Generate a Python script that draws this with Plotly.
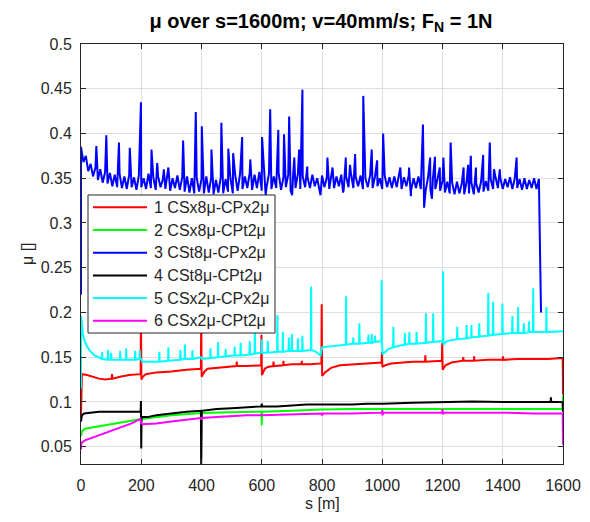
import plotly.graph_objects as go

# ---------------- data ----------------
# 1 CSx8µ-CPx2µ (red)
red_s = [0, 0.5, 3, 20, 40, 60, 80, 102, 103, 104, 130, 160, 198, 199, 200.5, 205, 215, 250, 300, 350,
         398, 399, 400.5, 410, 420, 450, 500, 516, 517, 518, 550, 598, 599, 600.5, 610, 620, 638, 639, 640,
         671, 672, 673, 700, 732, 733, 734, 760, 798, 799, 800.5, 810, 830, 860, 900, 950, 998, 999, 1000.5,
         1010, 1030, 1100, 1142, 1143, 1144, 1198, 1199, 1200.5, 1210, 1230, 1268, 1269, 1270, 1304, 1305,
         1306, 1350, 1400, 1401, 1402, 1450, 1500, 1550, 1599, 1600]
red_mu = [0.086, 0.112, 0.131, 0.130, 0.128, 0.126, 0.125, 0.126, 0.131, 0.126, 0.128, 0.130, 0.131, 0.200,
          0.125, 0.128, 0.131, 0.133, 0.134, 0.136, 0.137, 0.200, 0.128, 0.134, 0.137, 0.138, 0.140, 0.140,
          0.145, 0.140, 0.140, 0.141, 0.175, 0.130, 0.137, 0.139, 0.140, 0.145, 0.140, 0.141, 0.146, 0.141,
          0.142, 0.142, 0.146, 0.142, 0.142, 0.143, 0.209, 0.129, 0.133, 0.138, 0.141, 0.142, 0.143, 0.144,
          0.156, 0.139, 0.141, 0.143, 0.145, 0.145, 0.152, 0.145, 0.146, 0.166, 0.136, 0.141, 0.144, 0.146,
          0.150, 0.146, 0.146, 0.151, 0.146, 0.147, 0.147, 0.151, 0.147, 0.148, 0.148, 0.148, 0.149, 0.108]

# 2 CSx8µ-CPt2µ (green)
green_s = [0, 3, 13, 46, 101, 157, 200, 300, 400, 500, 599, 600, 601, 700, 800, 900, 1000, 1100, 1200,
           1300, 1400, 1500, 1599, 1600]
green_mu = [0.062, 0.067, 0.070, 0.072, 0.075, 0.078, 0.081, 0.085, 0.0875, 0.0885, 0.089, 0.074, 0.089,
            0.090, 0.0915, 0.092, 0.092, 0.092, 0.092, 0.092, 0.092, 0.092, 0.092, 0.107]

blue_base_step = 8
blue_base_mu = [
    0.385, 0.368, 0.375, 0.358, 0.366, 0.352, 0.362, 0.348, 0.360, 0.345,
    0.357, 0.344, 0.356, 0.341, 0.354, 0.340, 0.355, 0.339, 0.352, 0.338,
    0.354, 0.340, 0.351, 0.337, 0.353, 0.340, 0.350, 0.338, 0.355, 0.339,
    0.351, 0.337, 0.352, 0.340, 0.349, 0.338, 0.354, 0.336, 0.350, 0.339,
    0.353, 0.337, 0.351, 0.335, 0.352, 0.334, 0.350, 0.333, 0.351, 0.335,
    0.349, 0.333, 0.352, 0.334, 0.350, 0.332, 0.348, 0.334, 0.351, 0.333,
    0.349, 0.335, 0.350, 0.333, 0.353, 0.336, 0.355, 0.338, 0.352, 0.339,
    0.356, 0.337, 0.354, 0.339, 0.357, 0.336, 0.353, 0.340, 0.355, 0.338,
    0.352, 0.339, 0.356, 0.337, 0.351, 0.340, 0.354, 0.336, 0.353, 0.339,
    0.355, 0.338, 0.352, 0.340, 0.351, 0.339, 0.354, 0.341, 0.350, 0.337,
    0.353, 0.340, 0.351, 0.338, 0.355, 0.339, 0.352, 0.341, 0.354, 0.337,
    0.352, 0.340, 0.356, 0.339, 0.351, 0.341, 0.353, 0.338, 0.350, 0.340,
    0.354, 0.339, 0.352, 0.341, 0.350, 0.338, 0.353, 0.340, 0.351, 0.339,
    0.352, 0.340, 0.354, 0.338, 0.351, 0.341, 0.353, 0.337, 0.350, 0.339,
    0.352, 0.338, 0.350, 0.336, 0.351, 0.337, 0.349, 0.338, 0.350, 0.336,
    0.347, 0.334, 0.346, 0.333, 0.345, 0.332, 0.346, 0.333, 0.344, 0.332,
    0.346, 0.333, 0.345, 0.332, 0.344, 0.334, 0.346, 0.335, 0.347, 0.336,
    0.349, 0.338, 0.351, 0.339, 0.350, 0.338, 0.349, 0.340, 0.351, 0.338,
    0.350, 0.339, 0.349, 0.337, 0.350, 0.338, 0.348, 0.339, 0.350, 0.338,
    0.349,
]
blue_spike_s = [51, 84, 126, 162, 199, 234, 253, 275, 290, 339, 381, 401, 433, 466, 489, 505, 535, 562,
                601, 613, 628, 655, 674, 691, 701, 708, 724, 735, 751, 795, 818, 835, 870, 879, 893, 910,
                937, 965, 983, 1003, 1060, 1089, 1095, 1135, 1139, 1159, 1165, 1175, 1191, 1203, 1227,
                1270, 1285, 1294, 1311, 1335, 1357, 1371, 1390, 1446]
blue_spike_mu = [0.386, 0.398, 0.390, 0.384, 0.435, 0.382, 0.367, 0.360, 0.362, 0.392, 0.424, 0.408,
                 0.382, 0.412, 0.383, 0.378, 0.396, 0.371, 0.396, 0.331, 0.427, 0.404, 0.399, 0.419,
                 0.331, 0.373, 0.382, 0.449, 0.363, 0.331, 0.373, 0.362, 0.334, 0.373, 0.365, 0.377,
                 0.442, 0.382, 0.370, 0.400, 0.362, 0.362, 0.330, 0.410, 0.317, 0.373, 0.327, 0.374,
                 0.362, 0.373, 0.390, 0.362, 0.365, 0.375, 0.362, 0.376, 0.390, 0.360, 0.360, 0.373]
blue_head = (0, 0.220)      # initial transient at s = 0
blue_tail = (1527, 0.200)   # drop at the end of the run

# 4 CSt8µ-CPt2µ (black)
black_s = [0, 3, 10, 30, 60, 100, 150, 198, 199, 200, 201, 220, 250, 300, 350, 398, 399, 401, 450, 500,
           550, 599, 600, 601, 650, 700, 750, 800, 850, 900, 950, 1000, 1100, 1200, 1300, 1400, 1500,
           1559, 1560, 1561, 1599, 1600]
black_mu = [0.078, 0.085, 0.087, 0.088, 0.089, 0.089, 0.089, 0.089, 0.101, 0.048, 0.083, 0.083, 0.085,
            0.087, 0.089, 0.090, 0.025, 0.090, 0.092, 0.093, 0.094, 0.095, 0.098, 0.095, 0.095, 0.096,
            0.097, 0.097, 0.097, 0.097, 0.098, 0.098, 0.099, 0.100, 0.1005, 0.100, 0.100, 0.100, 0.105,
            0.100, 0.100, 0.089]

# 5 CSx2µ-CPx2µ (cyan)
cyan_s = [0, 0.5, 6, 12, 20, 30, 45, 60,
          69, 70, 71, 89, 90, 91, 99, 100, 101, 129, 130, 131, 149, 150, 151, 179, 180, 181,
          194, 195, 196, 200, 203, 259, 260, 261, 289, 290, 291, 329, 330, 331, 344, 345, 346,
          369, 370, 371, 398, 401, 429, 430, 431, 454, 455, 456, 479, 480, 481, 509, 510, 511,
          529, 530, 531, 559, 560, 561, 576, 577, 578, 599, 600, 601, 619, 620, 621, 651, 652, 653,
          669, 670, 671, 689, 690, 691, 699, 700, 701, 719, 720, 721, 734, 735, 736, 763, 764, 765,
          780, 795, 800, 830, 850, 879, 880, 881, 903, 904, 905, 923, 924, 925, 953, 954, 955,
          964, 965, 966, 975, 976, 977, 997, 998, 999, 1001, 1010, 1020, 1036, 1037, 1038, 1060,
          1074, 1075, 1076, 1089, 1090, 1091, 1113, 1114, 1115, 1144, 1145, 1146, 1168, 1169, 1170,
          1201, 1202, 1203, 1215, 1248, 1249, 1250, 1279, 1280, 1281, 1295, 1296, 1297, 1321, 1322,
          1323, 1351, 1352, 1353, 1367, 1368, 1369, 1398, 1399, 1400, 1431, 1432, 1433, 1450, 1451,
          1452, 1469, 1470, 1471, 1486, 1487, 1488, 1500, 1501, 1502, 1544, 1545, 1546, 1600]
cyan_mu = [0.115, 0.196, 0.176, 0.168, 0.162, 0.157, 0.152, 0.149,
           0.148, 0.156, 0.148, 0.147, 0.158, 0.147, 0.147, 0.155, 0.147, 0.147, 0.157, 0.147,
           0.147, 0.160, 0.147, 0.147, 0.157, 0.147,
           0.148, 0.158, 0.148, 0.148, 0.145, 0.145, 0.156, 0.145, 0.146, 0.161, 0.146, 0.147,
           0.158, 0.147, 0.148, 0.164, 0.148,
           0.148, 0.158, 0.148, 0.150, 0.148, 0.149, 0.160, 0.149, 0.150, 0.167, 0.150, 0.151,
           0.159, 0.151, 0.152, 0.162, 0.152,
           0.152, 0.166, 0.152, 0.153, 0.168, 0.153, 0.154, 0.184, 0.154, 0.155, 0.170, 0.155,
           0.155, 0.168, 0.155, 0.156, 0.197, 0.156,
           0.156, 0.178, 0.156, 0.157, 0.172, 0.157, 0.157, 0.176, 0.157, 0.157, 0.171, 0.157,
           0.157, 0.174, 0.157, 0.158, 0.229, 0.158,
           0.156, 0.152, 0.161, 0.162, 0.163, 0.164, 0.218, 0.164, 0.165, 0.172, 0.165, 0.165,
           0.188, 0.165, 0.166, 0.175, 0.166,
           0.166, 0.176, 0.166, 0.167, 0.174, 0.167, 0.168, 0.236, 0.168, 0.153, 0.156, 0.159,
           0.161, 0.184, 0.161, 0.163,
           0.164, 0.177, 0.164, 0.165, 0.178, 0.165, 0.165, 0.178, 0.165, 0.166, 0.199, 0.166,
           0.167, 0.199, 0.167,
           0.168, 0.246, 0.164, 0.168, 0.170, 0.184, 0.170, 0.171, 0.186, 0.171, 0.172, 0.186,
           0.172, 0.173, 0.188,
           0.173, 0.174, 0.222, 0.174, 0.175, 0.212, 0.175, 0.176, 0.210, 0.176, 0.177, 0.196,
           0.177, 0.177, 0.206,
           0.177, 0.177, 0.188, 0.177, 0.178, 0.190, 0.178, 0.178, 0.227, 0.178, 0.178, 0.206,
           0.178, 0.179]

# 6 CSx2µ-CPt2µ (magenta)
magenta_s = [0, 1, 13, 46, 80, 124, 168, 197, 200, 205, 250, 300, 350, 398, 400, 402, 450, 500, 550,
             600, 700, 798, 800, 803, 900, 999, 1000, 1001, 1003, 1100, 1199, 1200, 1201, 1203, 1300,
             1400, 1500, 1599, 1600]
magenta_mu = [0.047, 0.054, 0.057, 0.061, 0.066, 0.071, 0.076, 0.081, 0.076, 0.075, 0.076, 0.078,
              0.080, 0.082, 0.080, 0.082, 0.083, 0.084, 0.085, 0.085, 0.086, 0.087, 0.085, 0.087,
              0.087, 0.088, 0.091, 0.085, 0.088, 0.088, 0.088, 0.092, 0.086, 0.088, 0.088, 0.088,
              0.087, 0.087, 0.052]

names = ["1 CSx8μ-CPx2μ", "2 CSx8μ-CPt2μ", "3 CSt8μ-CPx2μ",
         "4 CSt8μ-CPt2μ", "5 CSx2μ-CPx2μ", "6 CSx2μ-CPt2μ"]
colors = ["#ff0000", "#00ff00", "#0000ff", "#000000", "#00ffff", "#ff00ff"]

x_ticks = [0, 200, 400, 600, 800, 1000, 1200, 1400, 1600]
y_ticks = [0.05, 0.1, 0.15, 0.2, 0.25, 0.3, 0.35, 0.4, 0.45, 0.5]
y_tick_text = ["0.05", "0.1", "0.15", "0.2", "0.25", "0.3", "0.35", "0.4", "0.45", "0.5"]

# ---------------- assemble blue ----------------
blue_base_s = [i * blue_base_step for i in range(len(blue_base_mu))]
merged = sorted(zip(blue_base_s + blue_spike_s, blue_base_mu + blue_spike_mu))
blue_s = [blue_head[0]] + [p[0] for p in merged] + [blue_tail[0]]
blue_mu = [blue_head[1]] + [p[1] for p in merged] + [blue_tail[1]]

series = [(red_s, red_mu), (green_s, green_mu), (blue_s, blue_mu),
          (black_s, black_mu), (cyan_s, cyan_mu), (magenta_s, magenta_mu)]

FONT = "Liberation Sans, Arial, Helvetica, sans-serif"
AX = "#262626"

# page geometry (pixels) -> paper coordinates
W, H = 590, 522
ML, MR, MT, MB = 81, 27, 44, 58
PW, PH = W - ML - MR, H - MT - MB


def px(x):
    return (x - ML) / PW


def py(y):
    return (H - MB - y) / PH


fig = go.Figure()
for (sx, sy), nm, col in zip(series, names, colors):
    fig.add_trace(go.Scatter(x=sx, y=sy, mode="lines", name=nm,
                             line=dict(color=col, width=2), showlegend=False))

axis_common = dict(showline=True, linecolor=AX, linewidth=1, mirror="ticks",
                   ticks="inside", ticklen=5, tickcolor=AX, tickwidth=1,
                   showgrid=True, gridcolor="#dfdfdf", gridwidth=1, zeroline=False,
                   automargin=False,
                   tickfont=dict(family=FONT, size=16, color=AX))

fig.update_xaxes(range=[0, 1600], tickvals=x_ticks, ticklabelstandoff=7, **axis_common)
fig.update_yaxes(range=[0.0306, 0.5], tickvals=y_ticks, ticktext=y_tick_text,
                 ticklabelstandoff=5, **axis_common)

# legend box drawn like the MATLAB legend
shapes = [dict(type="rect", xref="paper", yref="paper",
               x0=px(88), x1=px(275), y0=py(333), y1=py(195),
               fillcolor="white", line=dict(color=AX, width=1), layer="above")]
annotations = []
legend_rows = [207.3, 230.0, 252.7, 275.4, 298.1, 320.8]
for nm, col, yy in zip(names, colors, legend_rows):
    shapes.append(dict(type="line", xref="paper", yref="paper",
                       x0=px(93), x1=px(147), y0=py(yy), y1=py(yy),
                       line=dict(color=col, width=2), layer="above"))
    annotations.append(dict(text=nm, xref="paper", yref="paper", x=px(151.5), y=py(yy),
                            xanchor="left", yanchor="middle", showarrow=False,
                            font=dict(family=FONT, size=16, color=AX)))

annotations += [
    dict(text="μ []", xref="paper", yref="paper", x=px(27), y=0.5,
         xanchor="center", yanchor="middle", textangle=-90, showarrow=False,
         font=dict(family=FONT, size=16, color=AX)),
    dict(text="s [m]", xref="paper", yref="paper", x=0.5, y=py(503),
         xanchor="center", yanchor="middle", showarrow=False,
         font=dict(family=FONT, size=16, color=AX)),
]

fig.update_layout(
    width=W, height=H,
    margin=dict(l=ML, r=MR, t=MT, b=MB, autoexpand=False),
    paper_bgcolor="white", plot_bgcolor="white",
    font=dict(family=FONT, color=AX),
    showlegend=False,
    title=dict(text="<b>μ over s=1600m; v=40mm/s; F<sub>N</sub> = 1N</b>",
               x=px(321), xref="paper", xanchor="center",
               y=1 - 21 / H, yref="container", yanchor="middle",
               font=dict(family=FONT, size=20, color="#000000")),
    shapes=shapes,
    annotations=annotations,
)

fig.write_html("out.html", config={"displayModeBar": False},
               post_script="document.body.style.margin='0';")
